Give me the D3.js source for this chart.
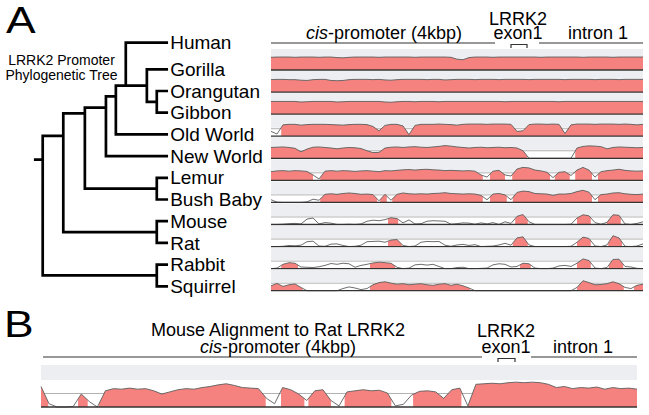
<!DOCTYPE html>
<html>
<head>
<meta charset="utf-8">
<script src="https://cdn.jsdelivr.net/npm/d3@7"></script>
<style>
  body { margin: 0; background: #fff; }
  svg { display: block; font-family: Arial, "Liberation Sans", sans-serif; }
</style>
</head>
<body>
<div id="chart"></div>
<script>
// LRRK2 PROMOTER CONSERVATION FIGURE

// Chart variables

var width = 649;
var height = 415;

// Species, in tree order (Human is the reference sequence, so it has no track)

var species = ["Human", "Gorilla", "Orangutan", "Gibbon", "Old World", "New World",
               "Lemur", "Bush Baby", "Mouse", "Rat", "Rabbit", "Squirrel"];

// Tree topology. d = depth of the node along the tree, w = where the stem leaves its clade

var tree = {d: 0, w: 0.17, children: [
  {d: 1.66, w: 0.19, children: [
    {d: 3.4, w: 0.07, children: [
      {d: 5.1, w: 0.19, children: [
        {d: 5.9, w: 0.22, children: [
          {d: 6.7, w: 1, children: [
            {name: "Human"},
            {d: 8.4, w: 0.5, children: [
              {name: "Gorilla"},
              {d: 9.2, w: 0.5, children: [{name: "Orangutan"}, {name: "Gibbon"}]}
            ]}
          ]},
          {name: "Old World"}
        ]},
        {name: "New World"}
      ]},
      {d: 9.2, w: 0.5, children: [{name: "Lemur"}, {name: "Bush Baby"}]}
    ]},
    {d: 9.2, w: 0.5, children: [{name: "Mouse"}, {name: "Rat"}]}
  ]},
  {d: 9.2, w: 0.5, children: [{name: "Rabbit"}, {name: "Squirrel"}]}
]};

// Conservation to human (% identity, 50-100), one value per bin along the alignment

var gorilla   = [97,98,98,98,97,98,98,98,97,98, 98,96,95,97,98,98,98,98,97,98, 98,98,98,98,97,98,98,98,98,98,
                 97,90,88,96,98,98,98,97,98,98, 98,98,98,98,98,97,98,98,98,98, 98,98,97,98,98,98,98,97,98,98, 98,98,98];
var orangutan = [96,97,97,96,96,94,93,96,97,97, 93,92,93,96,97,97,97,96,97,95, 94,96,97,97,97,97,96,97,97,95,
                 96,97,97,97,96,97,97,97,96,97, 97,97,97,96,97,97,97,97,97,96, 97,97,97,97,96,97,97,97,96,97, 97,97,97];
var gibbon    = [97,97,97,97,97,95,96,97,97,97, 97,95,96,97,97,97,97,97,97,95, 94,96,97,97,96,97,97,97,96,97,
                 97,97,97,97,97,97,97,97,97,96, 97,97,97,97,97,97,97,97,96,97, 97,97,97,97,97,97,97,97,97,97, 97,97,97];
var oldWorld  = [68,58,92,94,94,91,93,94,94,94, 93,92,91,93,94,94,93,86,70,90, 94,94,88,56,90,94,94,94,95,94,
                 93,91,94,95,95,95,94,95,95,95, 94,68,70,93,95,95,94,95,94,60, 92,95,95,95,94,95,95,95,94,95, 94,92,94];
var newWorld  = [90,91,92,90,87,74,84,91,92,90, 88,85,88,90,89,86,78,71,72,88, 91,92,90,92,93,91,90,92,94,97,
                 95,92,90,88,90,91,89,90,91,89, 90,88,78,50,50,50,50,50,50,50, 50,88,94,96,95,93,85,90,92,91, 90,89,90];
var lemur     = [82,85,86,84,86,85,83,70,55,84, 86,84,86,85,83,85,86,84,82,86, 85,87,89,90,88,90,91,89,88,86,
                 87,86,85,86,84,70,62,84,87,70, 66,92,98,96,88,85,80,60,80,82, 68,88,98,88,62,82,86,88,91,87, 85,84,85];
var bushBaby  = [60,51,50,50,50,50,52,62,58,80, 82,80,83,85,83,80,81,79,56,80, 58,80,85,82,81,82,81,83,84,86,
                 83,82,81,82,81,76,60,81,83,78, 60,87,92,90,83,82,81,76,81,81, 83,90,95,88,60,79,81,85,86,82, 80,79,81];
var mouse     = [50,50,51,53,54,52,70,74,52,57, 55,50,50,51,50,52,62,66,64,68, 75,72,56,67,52,53,62,64,63,62,
                 51,53,56,55,51,56,52,57,50,60, 54,80,87,60,50,50,50,50,50,50, 51,74,86,82,57,51,58,86,84,52, 50,54,60];
var rat       = [50,50,51,54,53,55,68,70,52,51, 59,60,54,50,51,55,68,69,70,66, 74,76,54,50,52,66,69,68,69,55,
                 51,56,58,54,57,50,51,52,56,62, 55,82,86,56,50,50,50,50,50,50, 51,66,85,80,52,50,56,90,82,51, 50,52,60];
var rabbit    = [50,52,66,72,70,56,55,54,57,62, 69,66,70,68,55,62,66,71,74,72, 70,55,50,52,64,66,63,66,58,50,
                 50,54,55,50,50,51,52,64,68,66, 56,58,70,68,52,50,50,52,60,62, 58,70,86,80,52,50,54,84,85,58, 56,51,50];
var squirrel  = [68,77,66,72,75,62,50,50,50,50, 50,50,58,64,60,54,58,72,80,83, 78,74,76,72,74,76,72,70,74,76,
                 70,74,68,60,50,50,50,50,50,50, 50,50,50,50,50,50,50,50,50,50, 50,62,87,80,72,73,76,83,76,62, 58,70,74];

// Conserved regions (pink), as [start bin, end bin]

var gorillaCns   = [[0, 62]];
var orangutanCns = [[0, 62]];
var gibbonCns    = [[0, 62]];
var oldWorldCns  = [[1.7, 62]];
var newWorldCns  = [[0, 42.7], [50.7, 62]];
var lemurCns     = [[0, 7], [8.2, 35.3], [36.5, 39], [40.2, 46.5], [47.3, 49.8], [50.7, 53.5], [54.5, 62]];
var bushBabyCns  = [[8.2, 17.7], [18.2, 19.3], [20.2, 35.3], [36.5, 39.3], [40.3, 53.5], [54.5, 62]];
var mouseCns     = [[19.5, 21.2], [40.7, 42.8], [51, 53.3], [56, 58.3]];
var ratCns       = [[19.5, 21.8], [40.3, 42.8], [51, 53.3], [56.2, 58.5]];
var rabbitCns    = [[1.7, 4.5], [16.5, 20.7], [41.5, 43.3], [51, 53.3], [56.3, 58.7]];
var squirrelCns  = [[0, 5.3], [16.5, 33.2], [51, 58.8], [60.5, 62]];

// Panel B: mouse aligned to rat

var mouseRat = [88,56,50,50,51,74,60,50,80,84, 83,85,83,84,80,74,78,82,84,83, 86,88,91,93,90,86,85,84,66,56,
                86,82,74,62,80,82,62,52,78,80, 82,80,81,76,52,55,72,79,80,78, 66,82,85,52,92,93,94,93,95,96,
                95,96,95,92,86,88,84,86,85,87, 83,86,84,85,83];
var mouseRatCns = [[0, 0.9], [4.6, 5.8], [7.2, 27.9], [29.8, 32.7], [33.2, 36], [37.7, 43.5], [46.2, 52.2], [53, 74]];

var tracksA = [gorilla, orangutan, gibbon, oldWorld, newWorld, lemur, bushBaby, mouse, rat, rabbit, squirrel];
var cnsA = [gorillaCns, orangutanCns, gibbonCns, oldWorldCns, newWorldCns, lemurCns, bushBabyCns,
            mouseCns, ratCns, rabbitCns, squirrelCns];

// Creating the svg

var svg = d3.select("#chart")
            .append("svg")
            .attr("width", width)
            .attr("height", height);

var pink = "#f5827e";
var band = "#eceef1";

// Panel letters

svg.append("text").attr("transform", "translate(6,33) scale(1.2,1)")
   .attr("font-size", 37).text("A");
svg.append("text").attr("transform", "translate(4,337) scale(1.2,1)")
   .attr("font-size", 37).text("B");

// PHYLOGENETIC TREE

var xTree = d3.scaleLinear().domain([0, 10]).range([42.7, 166.7]);
var yRow = d3.scaleLinear().domain([1, 11]).range([69.3, 286.3]);

var root = d3.hierarchy(tree);
root.eachAfter(function (n) {
    if (!n.children) {
        var k = species.indexOf(n.data.name);
        n.py = k === 0 ? yRow(1) - 26.6 : yRow(k);     // Human sits level with the header
        n.px = xTree(10);
    } else {
        var a = n.children[0].py;
        var b = n.children[n.children.length - 1].py;
        n.py = a + n.data.w * (b - a);
        n.px = xTree(n.data.d);
    }
});

var branches = d3.path();
root.each(function (n) {
    if (!n.children) return;
    var ys = n.children.map(function (c) { return c.py; });
    branches.moveTo(n.px, d3.min(ys));
    branches.lineTo(n.px, d3.max(ys));
    n.children.forEach(function (c) {
        branches.moveTo(n.px, c.py);
        branches.lineTo(c.px, c.py);
    });
});
branches.moveTo(xTree(-0.6), root.py);                  // root stub
branches.lineTo(root.px, root.py);

svg.append("path")
   .attr("d", branches.toString())
   .attr("fill", "none")
   .attr("stroke", "#000")
   .attr("stroke-width", 2.7)
   .attr("stroke-linecap", "square");

svg.selectAll(".leaf")
   .data(root.leaves())
   .enter()
   .append("text")
   .attr("class", "leaf")
   .attr("x", function (d) { return d.px + 3.5; })
   .attr("y", function (d) { return d.py + 6.6; })
   .attr("font-size", 19)
   .text(function (d) { return d.data.name; });

svg.append("text")
   .attr("x", 61.5).attr("y", 65)
   .attr("text-anchor", "middle").attr("font-size", 14)
   .selectAll("tspan")
   .data(["LRRK2 Promoter", "Phylogenetic Tree"])
   .enter().append("tspan")
   .attr("x", 61.5)
   .attr("dy", function (d, i) { return i ? 14.5 : 0; })
   .text(function (d) { return d; });

// CONSERVATION TRACKS

function drawTrack(values, regions, x, base, h, bandTop, bandBottom, lineY, id) {

    var y = d3.scaleLinear().domain([50, 100]).range([base, base - h]).clamp(true);
    var g = svg.append("g");

    g.append("rect")                                    // grey band
     .attr("x", x.range()[0]).attr("width", x.range()[1] - x.range()[0])
     .attr("y", bandTop).attr("height", bandBottom - bandTop)
     .attr("fill", band);

    g.append("line")                                    // threshold line
     .attr("x1", x.range()[0]).attr("x2", x.range()[1])
     .attr("y1", lineY).attr("y2", lineY)
     .attr("stroke", "#a9a9a9").attr("stroke-width", 0.9);

    var clip = g.append("clipPath").attr("id", id);
    clip.selectAll("rect")
        .data(regions)
        .enter()
        .append("rect")
        .attr("x", function (r) { return x(r[0]); })
        .attr("width", function (r) { return x(r[1]) - x(r[0]); })
        .attr("y", base - h - 4)
        .attr("height", h + 4);

    var area = d3.area()
        .x(function (d, i) { return x(i); })
        .y0(base)
        .y1(function (d) { return y(d); });

    var line = d3.line()
        .x(function (d, i) { return x(i); })
        .y(function (d) { return y(d); });

    g.append("path")
     .attr("d", area(values))
     .attr("fill", pink)
     .attr("clip-path", "url(#" + id + ")");

    g.append("path")
     .attr("d", line(values))
     .attr("fill", "none")
     .attr("stroke", "#5e5e5e")
     .attr("stroke-width", 0.9);

    g.append("line")                                    // baseline
     .attr("x1", x.range()[0]).attr("x2", x.range()[1])
     .attr("y1", base).attr("y2", base)
     .attr("stroke", "#333").attr("stroke-width", 1.3);
}

var xA = d3.scaleLinear().domain([0, 62]).range([271, 643]);
var baseA = d3.scaleLinear().domain([0, 10]).range([70, 290.7]);

tracksA.forEach(function (vals, i) {
    var b = baseA(i);
    drawTrack(vals, cnsA[i], xA, b, 13.5, b - 21, b - 8.5, b - 7.5, "clipA" + i);
});

var xB = d3.scaleLinear().domain([0, mouseRat.length - 1]).range([41, 637]);
drawTrack(mouseRat, mouseRatCns, xB, 407, 27, 365, 380, 393.5, "clipB");

// Region labels above the tracks

function header(x0, xEnd, gapL, gapR, exonL, exonR, lineY) {
    var g = svg.append("g").attr("stroke", "#333").attr("stroke-width", 1.2).attr("fill", "none");
    g.append("line").attr("x1", x0).attr("x2", gapL).attr("y1", lineY).attr("y2", lineY);
    g.append("line").attr("x1", gapR).attr("x2", xEnd).attr("y1", lineY).attr("y2", lineY);
    g.append("path").attr("d", "M" + exonL + "," + (lineY + 5) + "V" + (lineY + 1.5) +
                               "H" + exonR + "V" + (lineY + 5));
}

header(271, 643, 495, 539, 511, 527, 43);
header(43, 637, 482, 531, 498, 515, 357);

// each label is a list of lines, each line a list of [text, italic] parts
function label(x, y, lines, lead) {
    var t = svg.append("text")
               .attr("x", x).attr("y", y)
               .attr("text-anchor", "middle")
               .attr("font-size", 18);
    lines.forEach(function (parts, li) {
        parts.forEach(function (p, pi) {
            var s = t.append("tspan").text(p[0]);
            if (p[1]) s.attr("font-style", "italic");
            if (pi === 0) s.attr("x", x).attr("dy", li ? lead : 0);
        });
    });
}

label(384, 39, [[["cis", true], ["-promoter (4kbp)"]]]);
label(518, 25, [[["LRRK2"]], [["exon1"]]], 14.3);
label(598, 39, [[["intron 1"]]]);

label(278, 336, [[["Mouse Alignment to Rat LRRK2"]], [["cis", true], ["-promoter (4kbp)"]]], 17);
label(506, 336.5, [[["LRRK2"]], [["exon1"]]], 16.5);
label(583, 353, [[["intron 1"]]]);
</script>
</body>
</html>
